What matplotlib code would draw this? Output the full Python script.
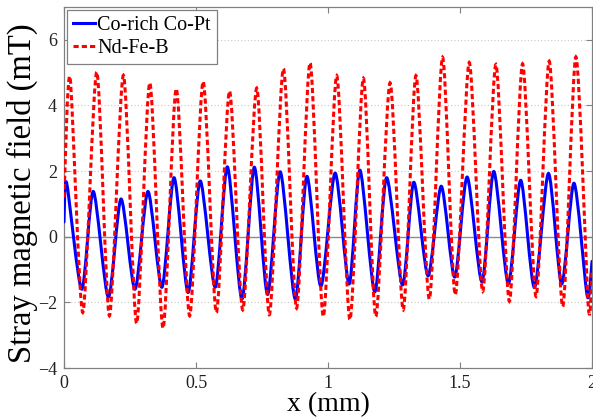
import matplotlib
matplotlib.use("Agg")
import matplotlib.pyplot as plt
from matplotlib.path import Path
from matplotlib.patches import PathPatch
from matplotlib.lines import Line2D

plt.rcParams['font.family'] = ['Liberation Serif', 'DejaVu Serif']

# Peak / trough positions (mm) and field values (mT) of each stripe
copt_peak_x = [0.010, 0.111, 0.216, 0.318, 0.417, 0.516, 0.619, 0.721, 0.819, 0.920,
               1.027, 1.121, 1.222, 1.325, 1.429, 1.527, 1.628, 1.730, 1.835, 1.932]
copt_peak_y = [1.64, 1.38, 1.15, 1.38, 1.80, 1.70, 2.13, 2.12, 1.98, 1.84,
               1.94, 2.03, 1.80, 1.66, 1.54, 1.82, 1.99, 1.72, 1.93, 1.63]
copt_trough_x = [0.067, 0.168, 0.269, 0.371, 0.470, 0.573, 0.674, 0.771, 0.876, 0.973,
                 1.080, 1.177, 1.282, 1.379, 1.480, 1.583, 1.683, 1.782, 1.885, 1.982]
copt_trough_y = [-1.60, -1.84, -1.60, -1.54, -1.70, -1.54, -1.90, -1.76, -1.90, -1.51,
                 -1.44, -1.68, -1.47, -1.19, -1.23, -1.37, -1.43, -1.55, -1.44, -1.81]
copt_ends = [(0.0, 0.45), (2.0, -0.75)]

ndfeb_peak_x = [0.023, 0.124, 0.225, 0.325, 0.425, 0.527, 0.627, 0.730, 0.831, 0.932,
                1.033, 1.134, 1.235, 1.333, 1.434, 1.535, 1.636, 1.737, 1.838, 1.939]
ndfeb_peak_y = [4.85, 5.02, 4.92, 4.69, 4.51, 4.73, 4.44, 4.53, 5.12, 5.30,
                4.91, 4.83, 4.69, 4.91, 5.47, 5.31, 5.25, 5.27, 5.35, 5.48]
ndfeb_trough_x = [0.071, 0.172, 0.275, 0.375, 0.476, 0.577, 0.677, 0.778, 0.881, 0.982,
                  1.083, 1.181, 1.285, 1.384, 1.482, 1.586, 1.687, 1.788, 1.889, 1.986]
ndfeb_trough_y = [-2.31, -2.41, -2.64, -2.79, -2.41, -2.31, -2.23, -2.38, -2.18, -2.43,
                  -2.53, -2.43, -2.23, -1.90, -1.77, -1.67, -1.97, -1.82, -2.13, -2.13]
ndfeb_ends = [(0.0, 1.20), (2.0, -1.00)]

x_ticks = [0, 0.5, 1, 1.5, 2]
x_tick_labels = ['0', '0.5', '1', '1.5', '2']
y_ticks = [-4, -2, 0, 2, 4, 6]

BLUE = '#0000ff'
RED = '#ff0000'
RED_DASH = (0, (1.7, 1.0))


def trace(px, py, tx, ty, ends):
    pts = [ends[0]]
    for a, b, c, d in zip(px, py, tx, ty):
        pts += [(a, b), (c, d)]
    pts.append(ends[1])
    return pts


def smooth_path(pts, k=7.5):
    """Cubic Bezier path running through every point (cardinal-spline tangents)."""
    ext = [pts[0]] + pts + [pts[-1]]
    verts = [pts[0]]
    codes = [Path.MOVETO]
    for i in range(1, len(ext) - 2):
        p0, p1, p2, p3 = ext[i - 1], ext[i], ext[i + 1], ext[i + 2]
        c1 = (p1[0] + (p2[0] - p0[0]) / k, p1[1] + (p2[1] - p0[1]) / k)
        c2 = (p2[0] - (p3[0] - p1[0]) / k, p2[1] - (p3[1] - p1[1]) / k)
        verts += [c1, c2, p2]
        codes += [Path.CURVE4] * 3
    return Path(verts, codes)


fig = plt.figure(figsize=(5.93, 4.19), dpi=100)
ax = fig.add_axes([64 / 593, 1 - 368 / 419, 528 / 593, 361 / 419])

for y in y_ticks[1:]:
    if y != 0:
        ax.axhline(y, color='#c8c8c8', lw=0.8, ls=(0, (1, 2)), zorder=0)
ax.axhline(0, color='#8c8c8c', lw=1.0, zorder=1)

copt_pts = trace(copt_peak_x, copt_peak_y, copt_trough_x, copt_trough_y, copt_ends)
ndfeb_pts = trace(ndfeb_peak_x, ndfeb_peak_y, ndfeb_trough_x, ndfeb_trough_y, ndfeb_ends)
ax.add_patch(PathPatch(smooth_path(copt_pts), fill=False, edgecolor=BLUE, lw=2.2,
                       capstyle='round', joinstyle='round', zorder=3))
ax.add_patch(PathPatch(smooth_path(ndfeb_pts), fill=False, edgecolor=RED, lw=2.2,
                       linestyle=RED_DASH, zorder=4))

ax.set_xlim(0, 2)
ax.set_ylim(-4, 7)
ax.set_xticks(x_ticks)
ax.set_xticklabels(x_tick_labels)
ax.set_yticks(y_ticks)
ax.tick_params(direction='in', length=4, width=0.8, color='#808080',
               top=True, right=True, labelsize=13, labelcolor='#222222', pad=5)
for s in ax.spines.values():
    s.set_color('#808080')
    s.set_linewidth(0.9)

ax.set_xlabel('x (mm)', fontsize=20)
ax.xaxis.set_label_coords(0.5, -0.068)
ax.set_ylabel('Stray magnetic field (mT)', fontsize=23.5)
ax.yaxis.set_label_coords(-0.049, 0.483)

handles = [Line2D([], [], color=BLUE, lw=2.2),
           Line2D([], [], color=RED, lw=2.2, ls=RED_DASH)]
leg = ax.legend(handles, ['Co-rich Co-Pt', 'Nd-Fe-B'], loc='upper left', fontsize=14.5,
                handlelength=1.1, handletextpad=0.1, borderpad=0.3, labelspacing=0.2,
                fancybox=False, framealpha=1, edgecolor='#808080', borderaxespad=0.15)
leg.get_frame().set_linewidth(0.9)

fig.savefig('out.png', dpi=100)
